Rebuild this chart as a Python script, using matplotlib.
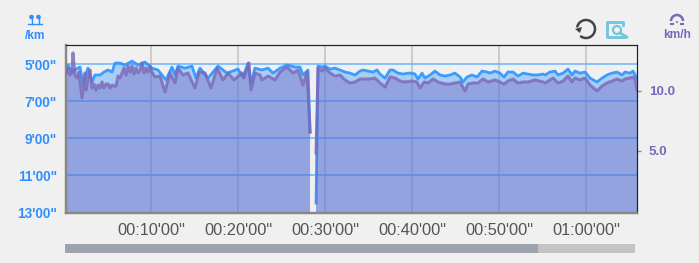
import numpy as np
import matplotlib
matplotlib.use('Agg')
import matplotlib.pyplot as plt
from matplotlib.patches import Arc, Circle, Rectangle

plt.rcParams['font.family'] = ['Liberation Sans', 'DejaVu Sans']

# minutes, min/km
pace_t = [.23, .46, .92, 1.38, 1.84, 2.18, 2.76, 3.22, 3.56, 4.14, 4.6, 5.06, 5.52, 5.86, 6.44, 7.01, 7.82, 8.51,
          9.31, 10.11, 10.8, 11.72, 12.41, 12.76, 13.1, 13.91, 14.71, 15.17, 15.63, 16.55, 17.7, 18.74, 20.0, 20.57,
          21.15, 21.49, 21.95, 22.76, 23.45, 24.02, 24.83, 25.63, 26.55, 27.13, 27.47, 28.05, 28.28, 28.5, 28.97,
          29.2, 29.66, 30.0, 30.57, 31.15, 31.72, 32.3, 32.87, 33.45, 34.02, 34.37, 34.94, 35.52, 35.98, 36.32, 36.9,
          37.47, 37.82, 38.39, 38.97, 39.54, 40.0, 40.34, 40.69, 41.15, 41.49, 42.07, 42.64, 43.22, 43.79, 44.37,
          44.94, 45.52, 45.86, 46.32, 46.9, 47.47, 48.05, 48.62, 48.97, 49.54, 50.11, 50.57, 51.03, 51.61, 52.18,
          52.76, 53.33, 53.91, 54.48, 55.06, 55.29, 55.86, 56.44, 56.78, 57.36, 57.93, 58.39, 58.74, 59.31, 59.89,
          60.46, 61.26, 61.84, 62.41, 62.99, 63.56, 64.14, 64.48, 65.06, 65.4, 65.86]
pace = [5.43, 5.05, 5.43, 5.27, 5.16, 6.03, 5.22, 5.97, 5.59, 5.59, 5.43, 5.32, 5.43, 4.95, 4.95, 5.05, 4.84, 5.05,
        4.89, 5.22, 5.32, 5.86, 5.16, 5.59, 5.11, 5.22, 5.11, 5.76, 5.22, 5.76, 5.11, 5.49, 5.27, 5.7,
        4.95, 6.03, 5.22, 5.32, 5.22, 5.49, 5.22, 5.05, 5.16, 5.16, 5.59, 5.32, 8.68, np.nan, 12.51,
        5.11, 5.16, 5.11, 5.27, 5.22, 5.32, 5.43, 5.49, 5.59, 5.38, 5.32, 5.38, 5.43, 5.32, 5.54, 5.76,
        5.32, 5.32, 5.49, 5.54, 5.49, 5.49, 5.54, 5.81, 5.49, 5.76, 5.59, 5.38, 5.59, 5.65, 5.59,
        5.49, 5.7, 5.97, 5.7, 5.59, 5.7, 5.38, 5.43, 5.49, 5.38, 5.49, 5.7, 5.43, 5.43, 5.65,
        5.49, 5.54, 5.59, 5.59, 5.54, 5.59, 5.43, 5.38, 5.59, 5.49, 5.27, 5.59, 5.38, 5.49, 5.43,
        5.76, 5.97, 5.76, 5.59, 5.49, 5.43, 5.59, 5.43, 5.49, 5.38, 5.76]

# minutes, km/h
speed_t = [.23, .46, .69, .92, 1.03, 1.26, 1.49, 1.72, 2.07, 2.41, 2.53, 2.76, 2.99, 3.22, 3.45, 3.68, 3.91, 4.14,
           4.37, 4.6, 4.83, 5.06, 5.29, 5.52, 5.75, 5.98, 6.21, 6.44, 6.67, 6.9, 7.13, 7.36, 7.59, 7.82, 8.05, 8.28,
           8.51, 8.74, 8.97, 9.2, 9.43, 9.66, 9.89, 10.11, 10.46, 11.03, 11.61, 12.18, 12.76, 13.1, 13.68, 14.25,
           15.06, 15.52, 16.21, 16.9, 17.59, 18.28, 18.85, 19.54, 20.46, 20.69, 21.26, 21.49, 21.95, 22.53, 22.76,
           23.45, 24.25, 24.83, 25.63, 26.32, 26.9, 27.47, 27.93, 28.28, 28.5, 28.97,
           29.2, 29.66, 30.0, 30.57, 31.15, 31.72, 32.3, 32.87, 33.45, 34.02, 34.6, 35.17, 35.75, 36.32, 36.9, 37.47,
           38.05, 38.62, 39.2, 40.0, 40.57, 40.92, 41.38, 41.84, 42.41, 42.99, 43.79, 44.37, 44.94, 45.52, 46.09,
           46.44, 47.01, 47.59, 48.16, 48.74, 49.54, 50.11, 50.57, 51.03, 51.61, 52.18, 52.76, 53.33, 54.14, 55.06,
           55.29, 55.86, 56.21, 56.78, 57.36, 57.93, 58.39, 58.74, 59.31, 59.89, 60.46, 61.26, 61.84, 62.41, 62.99,
           63.56, 64.14, 64.48, 65.06, 65.4, 65.63, 65.86]
speed = [11.5, 11.92, 11.33, 11.58, 13.17, 11.33, 11.08, 11.58, 9.42, 11.5, 10.08, 11.08, 11.75, 10.25, 10.58, 10.08,
         10.5, 10.25, 10.75, 10.25, 10.58, 10.58, 10.25, 10.5, 10.42, 10.42, 11.25, 11.08, 11.5, 11.92, 11.33, 12.08,
         11.58, 12.08, 11.42, 11.92, 11.5, 11.75, 12.33, 11.5, 11.92, 11.58, 12.08, 11.58, 11.17, 11.25, 9.92, 11.5,
         10.67, 11.92, 11.33, 11.5, 10.25, 11.58, 11.5, 10.25, 11.92, 10.92, 11.5, 10.92, 11.5, 11.08, 12.33, 10.08,
         11.5, 11.33, 10.92, 11.25, 10.92, 11.58, 12.0, 11.5, 11.75, 10.5, 11.58, 6.58, np.nan, 4.83,
         11.92, 11.67, 11.92, 11.5, 11.25, 11.33, 10.92, 10.67, 10.75, 11.0, 11.0, 11.0, 11.08, 10.67, 10.33, 11.17,
         11.08, 10.83, 10.75, 10.83, 10.75, 10.25, 10.75, 10.67, 11.0, 10.75, 10.58, 10.58, 10.67, 10.75, 10.0,
         10.58, 10.67, 10.67, 11.0, 10.75, 10.92, 10.75, 10.58, 10.83, 11.0, 10.67, 10.75, 10.75, 10.92, 10.75,
         10.67, 10.92, 11.08, 10.67, 10.83, 11.25, 10.75, 11.08, 10.92, 11.08, 10.5, 10.0, 10.42, 10.67, 10.83,
         11.0, 10.83, 11.0, 11.08, 11.17, 11.0, 10.08]

x_ticks = [10, 20, 30, 40, 50, 60]
x_labels = ["00:10'00\"", "00:20'00\"", "00:30'00\"", "00:40'00\"", "00:50'00\"", "01:00'00\""]
pace_ticks = [5, 7, 9, 11, 13]
pace_labels = ["5'00\"", "7'00\"", "9'00\"", "11'00\"", "13'00\""]
speed_ticks = [5, 10]
speed_labels = ['5.0', '10.0']

BG = '#f0f0f0'
BLUE = '#3399ff'
PURPLE = '#7b68b8'
W, H = 699, 263

fig = plt.figure(figsize=(W / 100, H / 100), dpi=100, facecolor=BG)
ax = fig.add_axes([66 / W, (H - 213) / H, 571 / W, 168 / H], facecolor=BG)
ax.set_xlim(.23, 65.86)
ax.set_ylim(13.05, 3.97)

for t in x_ticks:
    ax.axvline(t, color='#cccccc', lw=1.4, zorder=1)
for p in pace_ticks[:-1]:
    ax.axhline(p, color='#66b0ff', lw=1.4, alpha=.75, zorder=1)

pace_arr = np.array(pace)
ax.fill_between(pace_t, pace_arr, 13.05, color=BLUE, alpha=.38, lw=0, zorder=2)
ax.plot(pace_t, pace, color=BLUE, lw=2, alpha=.95, zorder=3)

ax.set_xticks(x_ticks, x_labels)
ax.set_yticks(pace_ticks, pace_labels)
ax.tick_params(axis='x', length=0, pad=7.5, labelsize=11.8, labelcolor='#555555')
ax.tick_params(axis='y', length=0, pad=6.5, labelsize=9.8, labelcolor='#2f8fff')
for lab in ax.get_yticklabels():
    lab.set_fontweight('bold')

ax2 = ax.twinx()
ax2.set_ylim(-.17, 13.83)
speed_arr = np.array(speed)
ax2.fill_between(speed_t, -.17, speed_arr, color='#6e5abe', alpha=.37, lw=0, zorder=2)
ax2.plot(speed_t, speed, color=PURPLE, lw=2.2, alpha=.8, zorder=3)
ax2.set_yticks(speed_ticks, speed_labels)
ax2.tick_params(axis='y', length=3, width=1, color='#888888', pad=5.5, labelsize=9.6, labelcolor=PURPLE)
for lab in ax2.get_yticklabels():
    lab.set_fontweight('bold')

for a in (ax, ax2):
    a.spines['top'].set_color('#222222')
    a.spines['right'].set_color('#222222')
    a.spines['left'].set_color('#888888')
    a.spines['left'].set_linewidth(1.6)
    a.spines['bottom'].set_color('#888888')
    a.spines['bottom'].set_linewidth(1.6)

# scrollbar and icons, in pixels
ui = fig.add_axes([0, 0, 1, 1], facecolor='none')
ui.set_xlim(0, W)
ui.set_ylim(H, 0)
ui.axis('off')
ui.add_patch(Rectangle((65, 244), 570, 9, color='#c4c4c4', lw=0))
ui.add_patch(Rectangle((65, 244), 473, 9, color='#9da3ae', lw=0))

ui.text(35, 36, '/km', color='#2f8fff', fontsize=8.6, fontweight='bold', ha='center', va='center')
ui.text(677, 35, 'km/h', color=PURPLE, fontsize=8.6, fontweight='bold', ha='center', va='center')

for cx in (31.5, 38.5):
    ui.add_patch(Circle((cx, 17), 2.3, color='#2f8fff', lw=0))
    ui.plot([cx, cx], [17, 24], color='#2f8fff', lw=1)
ui.plot([28, 42], [24, 24], color='#2f8fff', lw=1)

ui.add_patch(Arc((677, 21), 12, 12, theta1=180, theta2=360, color=PURPLE, lw=1.8))
ui.plot([671, 673], [24, 24], color=PURPLE, lw=1.5)
ui.plot([681, 683], [24, 24], color=PURPLE, lw=1.5)
ui.add_patch(Circle((677, 22), 1, color=PURPLE, lw=0))

ui.add_patch(Arc((586, 29), 18, 18, theta1=-170, theta2=130, color='#444444', lw=1.8))
ui.fill([575, 582, 580], [29, 27, 33], color='#444444', lw=0)

ui.plot([623, 623, 606.5, 606.5, 625], [25, 21.5, 21.5, 36.5, 36.5], color='#6cc5dc', lw=2)
ui.add_patch(Circle((617, 30), 4, fill=False, edgecolor='#6cc5dc', lw=1.5))
ui.plot([620, 627], [33, 37], color='#6cc5dc', lw=1.8)

fig.savefig('out.png', dpi=100, facecolor=BG)
